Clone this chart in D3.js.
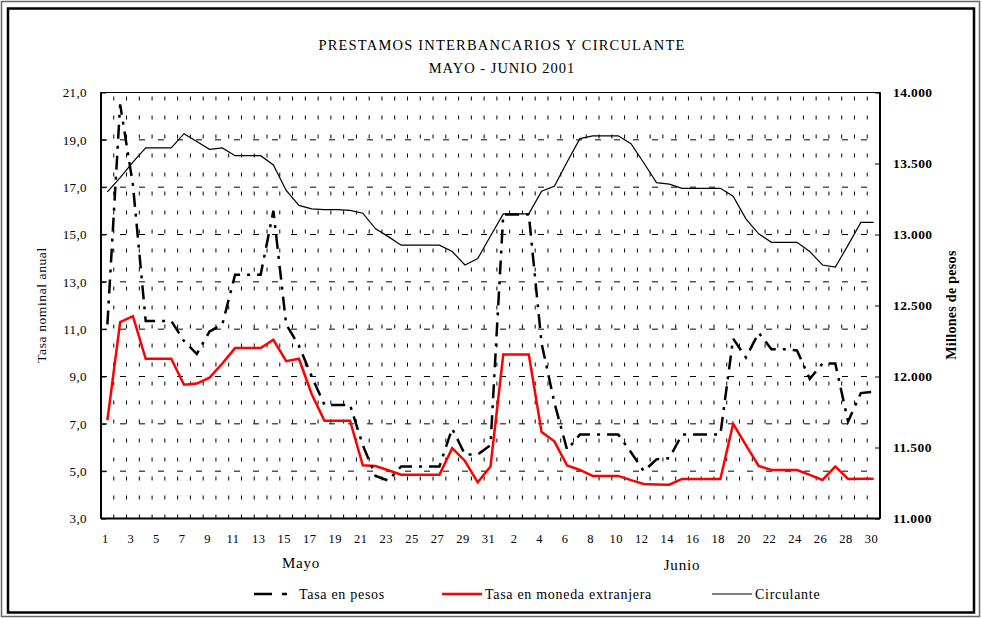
<!DOCTYPE html>
<html lang="es">
<head>
<meta charset="UTF-8">
<title>Prestamos interbancarios y circulante</title>
<script src="https://d3js.org/d3.v7.min.js"></script>
<style>
    body { margin: 0; padding: 0; background: #fff; }
    svg { display: block; }
    text { font-family: "Liberation Serif", "DejaVu Serif", serif; fill: #000; }
</style>
</head>
<body>
<svg width="982" height="619"></svg>
<script>
    // Days: May 1-31, June 1-30
    const mayDays = d3.range(1, 32);
    const junDays = d3.range(1, 31);
    const dayLabels = mayDays.concat(junDays);

    // Tasa en pesos (% nominal anual)
    const tasaPesos = [
        11.2, 20.5, 17.1, 11.35, 11.35, 11.35, 10.5, 9.95, 10.9, 11.2,
        13.3, 13.3, 13.3, 16.0, 11.2, 10.3, 9.0, 7.8, 7.8, 7.8,
        6.1, 4.8, 4.6, 5.2, 5.2, 5.2, 5.2, 6.8, 5.7, 5.7, 6.1,
        15.85, 15.85, 15.85, 10.4, 7.9, 5.9, 6.55, 6.55, 6.55, 6.55,
        5.8, 5.0, 5.5, 5.55, 6.55, 6.55, 6.55, 6.55, 10.6, 9.8,
        10.85, 10.15, 10.15, 10.1, 8.9, 9.55, 9.55, 7.1, 8.3, 8.35
    ];

    // Tasa en moneda extranjera
    const tasaExtranjera = [
        7.15, 11.3, 11.55, 9.75, 9.75, 9.75, 8.65, 8.7, 8.95, 9.55,
        10.2, 10.2, 10.2, 10.55, 9.65, 9.75, 8.25, 7.13, 7.13, 7.13,
        5.25, 5.22, 5.04, 4.85, 4.85, 4.85, 4.85, 5.97, 5.43, 4.53, 5.2,
        9.93, 9.93, 9.93, 6.65, 6.26, 5.24, 5.05, 4.8, 4.8, 4.8,
        4.62, 4.46, 4.44, 4.43, 4.67, 4.67, 4.67, 4.67, 7.0, 6.1,
        5.22, 5.05, 5.05, 5.05, 4.84, 4.63, 5.2, 4.67, 4.68, 4.68
    ];

    // Circulante (millones de pesos)
    const circulante = [
        13300, 13400, 13510, 13610, 13610, 13610, 13710, 13655, 13600, 13610,
        13555, 13555, 13555, 13490, 13310, 13205, 13180, 13175, 13175, 13170,
        13150, 13040, 12985, 12925, 12925, 12925, 12925, 12880, 12785, 12830, 12990,
        13145, 13145, 13145, 13305, 13340, 13510, 13675, 13695, 13695, 13695,
        13640, 13505, 13365, 13355, 13325, 13325, 13325, 13325, 13270, 13110,
        13005, 12945, 12945, 12945, 12880, 12785, 12770, 12925, 13085, 13085
    ];

    const leftTicks = d3.range(3, 21.01, 2);
    const rightTicks = d3.range(11000, 14001, 500);

    const svg = d3.select("svg");
    const plotL = 101, plotR = 880, plotT = 92.5, plotB = 518.5;

    // outer double frame
    svg.append("rect").attr("x", 1.5).attr("y", 1.5).attr("width", 978).attr("height", 615)
        .attr("fill", "none").attr("stroke", "#666").attr("stroke-width", 1.5);
    svg.append("rect").attr("x", 8).attr("y", 8.5).attr("width", 966).attr("height", 604)
        .attr("fill", "none").attr("stroke", "#000").attr("stroke-width", 2.5);

    const idx = d3.range(dayLabels.length);
    const x = d3.scaleBand().domain(idx).range([plotL, plotR]);
    const xc = i => x(i) + x.bandwidth() / 2;
    const yL = d3.scaleLinear().domain([3, 21]).range([plotB, plotT]);
    const yR = d3.scaleLinear().domain([11000, 14000]).range([plotB, plotT]);

    // grid
    const grid = svg.append("g");
    grid.selectAll(".vg").data(idx.slice(1)).enter().append("line")
        .attr("x1", i => x(i)).attr("x2", i => x(i))
        .attr("y1", plotB).attr("y2", plotT)
        .attr("stroke", "#000").attr("stroke-width", 1)
        .attr("stroke-dasharray", "4,15");
    grid.selectAll(".hg").data(leftTicks.filter(t => t > 3 && t < 21)).enter().append("line")
        .attr("x1", plotL).attr("x2", plotR)
        .attr("y1", d => yL(d)).attr("y2", d => yL(d))
        .attr("stroke", "#000").attr("stroke-width", 1)
        .attr("stroke-dasharray", "6,13");

    // frame
    svg.append("rect").attr("x", plotL).attr("y", plotT).attr("width", plotR - plotL).attr("height", plotB - plotT)
        .attr("fill", "none").attr("stroke", "#000").attr("stroke-width", 1);
    svg.append("line").attr("x1", plotL).attr("x2", plotL).attr("y1", plotT).attr("y2", plotB)
        .attr("stroke", "#000").attr("stroke-width", 2);
    svg.append("line").attr("x1", plotR).attr("x2", plotR).attr("y1", plotT).attr("y2", plotB)
        .attr("stroke", "#000").attr("stroke-width", 2);
    svg.append("line").attr("x1", plotL).attr("x2", plotR).attr("y1", plotB).attr("y2", plotB)
        .attr("stroke", "#000").attr("stroke-width", 2);

    // axes
    const axL = svg.append("g").attr("transform", `translate(${plotL},0)`)
        .call(d3.axisLeft(yL).tickValues(leftTicks).tickSize(-5).tickPadding(14)
            .tickFormat(d => d3.format(".1f")(d).replace(".", ",")));
    const axR = svg.append("g").attr("transform", `translate(${plotR},0)`)
        .call(d3.axisRight(yR).tickValues(rightTicks).tickSize(-5).tickPadding(13)
            .tickFormat(d => Math.floor(d / 1000) + "." + String(d % 1000).padStart(3, "0")));
    [axL, axR].forEach(a => {
        a.select(".domain").remove();
        a.selectAll("line").attr("stroke", "#000");
        a.selectAll("text").style("font-family", "'Liberation Serif', serif").style("font-size", "13px")
            .style("letter-spacing", "0.4px");
    });
    axR.selectAll("text").style("font-weight", "bold").style("font-size", "13.5px");

    const axB = svg.append("g").attr("transform", `translate(0,${plotB})`)
        .call(d3.axisBottom(x).tickValues(idx.filter(i => i % 2 === 0)).tickSize(0).tickPadding(16)
            .tickFormat(i => dayLabels[i]));
    axB.select(".domain").remove();
    axB.selectAll("text").style("font-family", "'Liberation Serif', serif").style("font-size", "12.5px")
        .style("letter-spacing", "0.5px").attr("dx", -2);

    // axis titles
    svg.append("text").attr("transform", "translate(46,305) rotate(-90)")
        .attr("text-anchor", "middle").style("font-size", "13.5px").style("letter-spacing", "0.6px")
        .text("Tasa nominal anual");
    svg.append("text").attr("transform", "translate(956,305) rotate(-90)")
        .attr("text-anchor", "middle").style("font-size", "14px").style("font-weight", "bold")
        .style("letter-spacing", "0.3px").text("Millones de pesos");
    svg.append("text").attr("x", 301).attr("y", 568).attr("text-anchor", "middle")
        .style("font-size", "15px").style("letter-spacing", "0.8px").text("Mayo");
    svg.append("text").attr("x", 682).attr("y", 570).attr("text-anchor", "middle")
        .style("font-size", "15px").style("letter-spacing", "0.8px").text("Junio");

    // title
    svg.append("text").attr("x", 502).attr("y", 50).attr("text-anchor", "middle")
        .style("font-size", "14.5px").style("letter-spacing", "1.2px")
        .text("PRESTAMOS INTERBANCARIOS Y CIRCULANTE");
    svg.append("text").attr("x", 502).attr("y", 73).attr("text-anchor", "middle")
        .style("font-size", "14.5px").style("letter-spacing", "1px").text("MAYO - JUNIO 2001");

    // series
    const lineL = d3.line().x((d, i) => xc(i)).y(d => yL(d));
    const lineR = d3.line().x((d, i) => xc(i)).y(d => yR(d));

    svg.append("path").datum(circulante).attr("d", lineR)
        .attr("fill", "none").attr("stroke", "#000").attr("stroke-width", 1.2);
    svg.append("path").datum(tasaExtranjera).attr("d", lineL)
        .attr("fill", "none").attr("stroke", "#ff0000").attr("stroke-width", 2.5);
    svg.append("path").datum(tasaPesos).attr("d", lineL)
        .attr("fill", "none").attr("stroke", "#000").attr("stroke-width", 2.5)
        .attr("stroke-dasharray", "14,7,3,7");

    // legend
    const legend = [
        { label: "Tasa en pesos", x1: 254, x2: 287, color: "#000", w: 2.5, dash: "18,10,5,60" },
        { label: "Tasa en moneda extranjera", x1: 442, x2: 482, color: "#ff0000", w: 2.5, dash: null },
        { label: "Circulante", x1: 712, x2: 752, color: "#000", w: 1.2, dash: null }
    ];
    const lg = svg.append("g").selectAll("g").data(legend).enter().append("g");
    lg.append("line").attr("x1", d => d.x1).attr("x2", d => d.x2).attr("y1", 594).attr("y2", 594)
        .attr("stroke", d => d.color).attr("stroke-width", d => d.w)
        .attr("stroke-dasharray", d => d.dash);
    lg.append("text").attr("x", d => d.x2 + (d.dash ? 12 : 3)).attr("y", 598.5)
        .style("font-size", "14px").style("letter-spacing", "0.7px").text(d => d.label);
</script>
</body>
</html>
